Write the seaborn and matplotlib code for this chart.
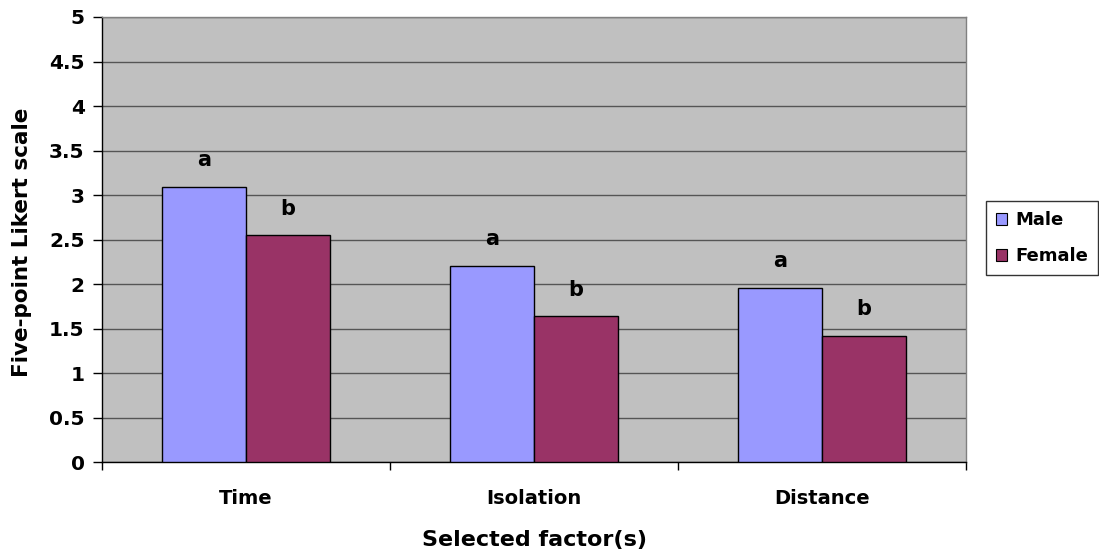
import matplotlib
matplotlib.use("Agg")
import matplotlib.pyplot as plt
import seaborn as sns
import pandas as pd
from matplotlib.patches import Patch
from matplotlib.ticker import MultipleLocator, FixedLocator

# Mean scores on a five-point Likert scale by selected factor and gender
factors = ["Time", "Isolation", "Distance"]
groups = ["Male", "Female"]
male_scores = [3.09, 2.21, 1.96]
female_scores = [2.55, 1.64, 1.42]
male_letters = ["a", "a", "a"]
female_letters = ["b", "b", "b"]

colors = {"Male": "#9999FF", "Female": "#993366"}

df = pd.DataFrame({
    "factor": factors * 2,
    "gender": ["Male"] * len(factors) + ["Female"] * len(factors),
    "score": male_scores + female_scores,
})

sns.set_theme(style="white")
plt.rcParams["font.family"] = ["DejaVu Sans"]
plt.rcParams["font.weight"] = "bold"
plt.rcParams["text.color"] = "black"
plt.rcParams["axes.labelcolor"] = "black"
plt.rcParams["xtick.color"] = "black"
plt.rcParams["ytick.color"] = "black"

fig = plt.figure(figsize=(10.99, 5.57), dpi=100)
ax = fig.add_axes([0.0928, 0.1697, 0.879 - 0.0928, 0.9695 - 0.1697])
ax.set_facecolor("#C0C0C0")

sns.barplot(data=df, x="factor", y="score", hue="gender", order=factors,
            hue_order=groups, palette=colors, width=0.58, gap=0,
            edgecolor="black", linewidth=1.0, saturation=1, ax=ax,
            legend=False, zorder=3)

ax.set_ylim(0, 5)
ax.set_xlim(-0.5, len(factors) - 0.5)
ax.yaxis.set_major_locator(MultipleLocator(0.5))
ax.set_yticklabels([f"{v:g}" for v in ax.get_yticks()])
ax.grid(axis="y", color="#555555", linewidth=1.0, zorder=0)
ax.set_axisbelow(True)

# Significance letters above each bar
for cont, letters in zip(ax.containers, [male_letters, female_letters]):
    for bar, letter in zip(cont, letters):
        x = bar.get_x() + bar.get_width() / 2
        ax.text(x, bar.get_height() + 0.3, letter, ha="center", va="center",
                fontsize=15, fontweight="bold", color="black", zorder=4)

# Spines and ticks
for side in ["left", "bottom"]:
    ax.spines[side].set_color("black")
    ax.spines[side].set_linewidth(1.0)
for side in ["top", "right"]:
    ax.spines[side].set_color("#808080")
    ax.spines[side].set_linewidth(1.0)

ax.tick_params(axis="y", which="major", direction="out", length=6.5, width=1,
               color="black", labelcolor="black", labelsize=14.5, pad=6, left=True)
ax.tick_params(axis="x", which="major", length=0, labelsize=14, pad=19,
               labelcolor="black")
ax.xaxis.set_minor_locator(FixedLocator([-0.5, 0.5, 1.5, 2.5]))
ax.tick_params(axis="x", which="minor", direction="out", length=6, width=1,
               color="black", bottom=True)
for lbl in ax.get_xticklabels() + ax.get_yticklabels():
    lbl.set_fontweight("bold")

ax.set_xlabel("Selected factor(s)", fontsize=16, fontweight="bold", color="black")
ax.xaxis.set_label_coords(0.5, -0.152)
ax.set_ylabel("Five-point Likert scale", fontsize=15.5, fontweight="bold", color="black")
ax.yaxis.set_label_coords(-0.081, 0.495)

handles = [Patch(facecolor=colors[g], edgecolor="black", linewidth=0.8) for g in groups]
leg = fig.legend(handles, groups, loc="upper left", bbox_to_anchor=(0.897, 0.639),
                 frameon=True, fancybox=False, edgecolor="black",
                 prop={"size": 13, "weight": "bold"}, handlelength=0.65,
                 handleheight=0.65, handletextpad=0.45, borderpad=0.55,
                 labelspacing=1.0, borderaxespad=0, labelcolor="black")
leg.get_frame().set_linewidth(1.0)

fig.savefig("out.png", dpi=100, facecolor="white")
